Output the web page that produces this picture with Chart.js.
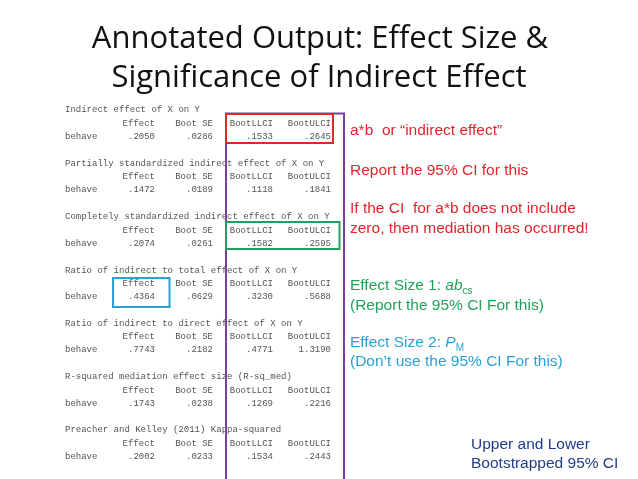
<!DOCTYPE html>
<html>
<head>
<meta charset="utf-8">
<script src="https://cdn.jsdelivr.net/npm/chart.js@4"></script>
<style>
  html, body { margin: 0; padding: 0; background: #fff; }
  canvas { display: block; }
</style>
</head>
<body>
<canvas id="myChart" width="638" height="479"></canvas>
<script>
// table contents
const sectionTitles = [
    'Indirect effect of X on Y',
    'Partially standardized indirect effect of X on Y',
    'Completely standardized indirect effect of X on Y',
    'Ratio of indirect to total effect of X on Y',
    'Ratio of indirect to direct effect of X on Y',
    'R-squared mediation effect size (R-sq_med)',
    'Preacher and Kelley (2011) Kappa-squared',
];
const columnHeaders = ['Effect', 'Boot SE', 'BootLLCI', 'BootULCI'];
const rowLabel = 'behave';
const effect = ['.2050', '.1472', '.2074', '.4364', '.7743', '.1743', '.2002'];
const bootSE = ['.0286', '.0189', '.0261', '.0629', '.2182', '.0238', '.0233'];
const bootLLCI = ['.1533', '.1118', '.1582', '.3230', '.4771', '.1269', '.1534'];
const bootULCI = ['.2645', '.1841', '.2595', '.5688', '1.3190', '.2216', '.2443'];

const sectionY = [110, 163.5, 217, 270.5, 323.5, 377, 430];
const colRight = [155, 213, 273, 331];

const slide = {
    id: 'slide',
    afterDraw(chart) {
        const c = chart.ctx;
        const X = (v) => chart.scales.x.getPixelForValue(v);
        const Y = (v) => chart.scales.y.getPixelForValue(v);
        c.save();
        c.textBaseline = 'middle';

        // title
        c.fillStyle = '#111';
        c.font = '31px "Open Sans", "Liberation Sans", sans-serif';
        c.textAlign = 'center';
        c.fillText('Annotated Output: Effect Size &', X(320), Y(39));
        c.fillText('Significance of Indirect Effect', X(319), Y(78));

        // table
        c.fillStyle = '#555';
        c.font = '9px "Liberation Mono", "DejaVu Sans Mono", monospace';
        sectionTitles.forEach((t, i) => {
            const y0 = sectionY[i];
            c.textAlign = 'left';
            c.fillText(t, X(65), Y(y0));
            c.fillText(rowLabel, X(65), Y(y0 + 26.5));
            c.textAlign = 'right';
            columnHeaders.forEach((h, j) => c.fillText(h, X(colRight[j]), Y(y0 + 13.5)));
            [effect, bootSE, bootLLCI, bootULCI].forEach((col, j) => {
                c.fillText(col[i], X(colRight[j]), Y(y0 + 26.5));
            });
        });

        // boxes
        const box = (x0, y0, x1, y1, color, w) => {
            c.strokeStyle = color;
            c.lineWidth = w;
            c.strokeRect(X(x0), Y(y0), X(x1) - X(x0), Y(y1) - Y(y0));
        };
        box(226, 113.5, 344, 482, '#7b3fa0', 2);
        box(226, 114, 333, 143, '#e0252b', 2);
        box(226, 222, 339.5, 249, '#1fa35a', 2);
        box(113, 278, 169.5, 307, '#2aa0d6', 2);

        // annotations
        const F = '15.5px "Liberation Sans", Arial, sans-serif';
        c.textAlign = 'left';
        c.font = F;
        c.fillStyle = '#e0252b';
        c.fillText('a*b  or \u201Cindirect effect\u201D', X(350), Y(131));
        c.fillText('Report the 95% CI for this', X(350), Y(171));
        c.fillText('If the CI  for a*b does not include', X(350), Y(209));
        c.fillText('zero, then mediation has occurred!', X(350), Y(229));

        const sub = (pre, it, s, x, y, color) => {
            c.fillStyle = color;
            c.font = F;
            c.fillText(pre, X(x), Y(y));
            let px = X(x) + c.measureText(pre).width;
            c.font = 'italic 15.5px "Liberation Sans", Arial, sans-serif';
            c.fillText(it, px, Y(y));
            px += c.measureText(it).width;
            c.font = '10px "Liberation Sans", Arial, sans-serif';
            c.fillText(s, px, Y(y + 5));
        };
        sub('Effect Size 1: ', 'ab', 'cs', 350, 286, '#1fa35a');
        c.font = F;
        c.fillText('(Report the 95% CI For this)', X(350), Y(306));
        sub('Effect Size 2: ', 'P', 'M', 350, 343, '#2aa0d6');
        c.font = F;
        c.fillText('(Don\u2019t use the 95% CI For this)', X(350), Y(362));

        c.fillStyle = '#1f3c88';
        c.fillText('Upper and Lower', X(471), Y(445));
        c.fillText('Bootstrapped 95% CI', X(471), Y(464));
        c.restore();
    },
};

new Chart(document.getElementById('myChart'), {
    type: 'scatter',
    data: { datasets: [{ data: [] }] },
    options: {
        responsive: false,
        animation: false,
        layout: { padding: 0 },
        plugins: { legend: { display: false }, tooltip: { enabled: false } },
        scales: {
            x: { type: 'linear', min: 0, max: 638, display: false },
            y: { type: 'linear', min: 0, max: 479, reverse: true, display: false },
        },
    },
    plugins: [slide],
});
</script>
</body>
</html>
